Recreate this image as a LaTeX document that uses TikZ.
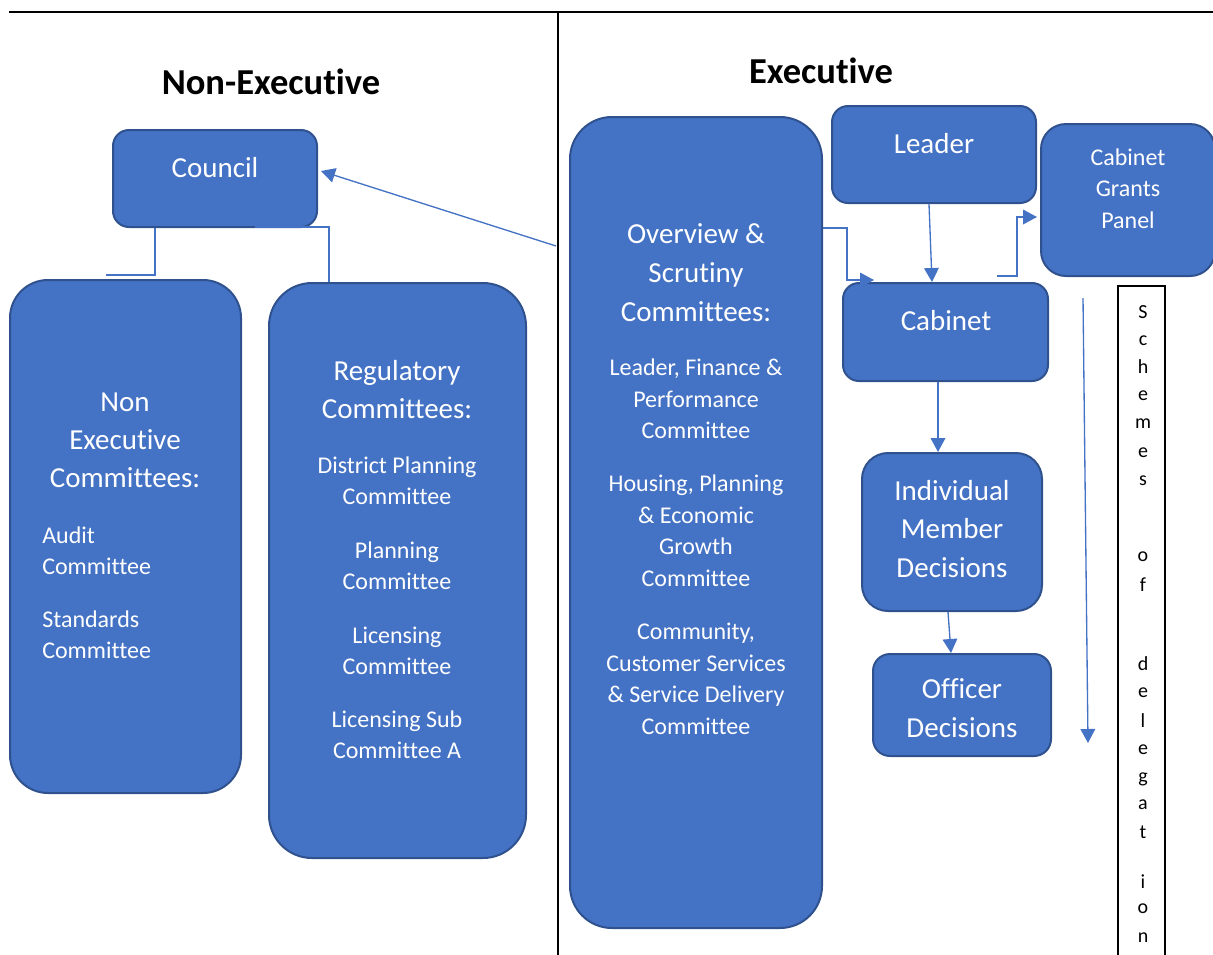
\documentclass[tikz,border=0pt]{standalone}
\usepackage{fontspec}
\setmainfont{Carlito}[Ligatures={NoCommon}]
\usetikzlibrary{arrows.meta,calc}
\definecolor{boxfill}{HTML}{4472C4}
\definecolor{boxedge}{HTML}{2F528F}
\definecolor{linkc}{HTML}{4472C4}

% rounded panel: name, left, top, right, bottom, corner radius (all in px units)
\newcommand\rrbox[6]{%
  \node[panel, rounded corners={#6*0.75pt},
        minimum width={(#4-#2)*0.75pt}, minimum height={(#5-#3)*0.75pt}]
        (#1) at ({(#2+#4)/2},{(#3+#5)/2}) {};}

\begin{document}
\begin{tikzpicture}[x=0.75pt,y=-0.75pt,
  panel/.style={draw=boxedge, fill=boxfill, line width=1.5pt, inner sep=0pt},
  sbox/.style={draw=black, line width=1.2pt, inner sep=0pt},
  bigtxt/.style={anchor=base, text=white, inner sep=0pt, yshift=-7.05pt,
                 font=\fontsize{21.75pt}{26pt}\selectfont},
  smalltxt/.style={anchor=base, text=white, inner sep=0pt, yshift=-5.8pt,
                   font=\fontsize{18pt}{22pt}\selectfont},
  smalltxtw/.style={smalltxt, anchor=base west},
  titletxt/.style={anchor=base, inner sep=0pt, yshift=-8.8pt,
                   font=\fontsize{27.4pt}{32pt}\selectfont\bfseries},
  lettertxt/.style={anchor=base, inner sep=0pt,
                    font=\fontsize{15pt}{18pt}\selectfont},
  link/.style={draw=linkc, line width=1pt},
  arrowlink/.style={link, -{Triangle[length=10.5pt,width=11pt]}}
]
\useasboundingbox (0,0) rectangle (1213,954);
\clip (0,0) rectangle (1213,954);

% frame rules
\draw[line width=2.2pt] (9,12) -- (1225,12);
\draw[line width=1.5pt] (558,12) -- (558,965);

% headings
\node[titletxt] (tnonexec) at (271,83) {Non-Executive};
\node[titletxt] (texec) at (821,72) {Executive};

% panels
\rrbox{council}{113}{130}{317}{227}{16}
\rrbox{nonexec}{10}{280}{241}{793}{38}
\rrbox{reg}{269}{283}{526}{858}{43}
\rrbox{ov}{570}{117}{822}{928}{42}
\rrbox{leader}{832}{106}{1036}{203}{16}
\rrbox{grants}{1041}{124}{1215}{276}{25}
\rrbox{cab}{843}{283}{1048}{381}{16}
\rrbox{imd}{862}{453}{1042}{611}{26}
\rrbox{officer}{873}{654}{1051}{756}{17}

% panel texts
\node[bigtxt] (councilt) at (215,168) {Council};
\node[bigtxt] (leadert) at (934,144) {Leader};
\node[bigtxt] (cabt) at (946,321) {Cabinet};

\foreach \t/\y [count=\i] in {Non/402, Executive/440, Committees:/478}
  \node[bigtxt] (neh\i) at (125,\y) {\t};
\foreach \t/\y [count=\i] in {Audit/536, Committee/567, Standards/620, Committee/651}
  \node[smalltxtw] (nei\i) at (42,\y) {\t};

\foreach \t/\y [count=\i] in {Regulatory/371, Committees:/409}
  \node[bigtxt] (regh\i) at (397,\y) {\t};
\foreach \t/\y [count=\i] in {District Planning/466, Committee/497,
    Planning/551, Committee/582, Licensing/636, Committee/667,
    Licensing Sub/720, Committee A/751}
  \node[smalltxt] (regi\i) at (397,\y) {\t};

\foreach \t/\y [count=\i] in {Overview \&/234, Scrutiny/273, Committees:/312}
  \node[bigtxt] (ovh\i) at (696,\y) {\t};
\foreach \t/\y [count=\i] in {{Leader, Finance \&}/368, Performance/400,
    Committee/431, {Housing, Planning}/484, \& Economic/516, Growth/547,
    Committee/579, {Community,}/632, Customer Services/664,
    \& Service Delivery/695, Committee/727}
  \node[smalltxt] (ovi\i) at (696,\y) {\t};

\foreach \t/\y [count=\i] in {Cabinet/158, Grants/189, Panel/221}
  \node[smalltxt] (grantst\i) at (1128,\y) {\t};
\foreach \t/\y [count=\i] in {Individual/491, Member/529, Decisions/568}
  \node[bigtxt] (imdt\i) at (952,\y) {\t};
\foreach \t/\y [count=\i] in {Officer/689, Decisions/728}
  \node[bigtxt] (officert\i) at (962,\y) {\t};

% schemes of delegation column
\node[sbox, minimum width={47*0.75pt}, minimum height={(975-286)*0.75pt}]
  (sodbox) at (1141.5,630.5) {};
\foreach \c/\y [count=\i] in {S/318, c/345, h/373, e/400, m/428, e/457, s/485,
    o/561, f/591, d/670, e/697, l/727, e/754, g/782, a/809, t/838,
    i/888, o/913, n/942}
  \node[lettertxt] (sod\i) at (1143,\y) {\c};

% connectors
\coordinate (ovsrc) at (556,246);
\draw[arrowlink] (ovsrc) -- ($(council.east)+(3,-7.5)$);

\draw[link] ($(council.south)+(-60,0)$) |- ($(nonexec.north)+(-19.5,-4)$);
\draw[link] ($(council.south)+(40,-1)$) -| ($(reg.north)+(-68.5,0)$);

\coordinate (ovcab) at ($(cab.north west)+(5,-2)$);
\draw[arrowlink] ($(ov.north east)+(0,112)$) -| (ovcab) -- ++(27,0);

\draw[arrowlink] ($(leader.south)+(-5,0)$) -- ($(cab.north)+(-13.5,0)$);

\draw[arrowlink] ($(cab.north)+(51.5,-6)$) -- ++(20,0) |- ($(grants.west)+(-3,17)$);

\draw[arrowlink] ($(cab.south)+(-7.5,0)$) -- ($(imd.north)+(-14,0)$);
\draw[arrowlink] ($(imd.south)+(-4,0)$) -- ($(officer.north)+(-11,0)$);

\coordinate (deltop) at (1083,298);
\coordinate (delend) at (1088,743);
\draw[arrowlink] (deltop) -- (delend);

\end{tikzpicture}
\end{document}
